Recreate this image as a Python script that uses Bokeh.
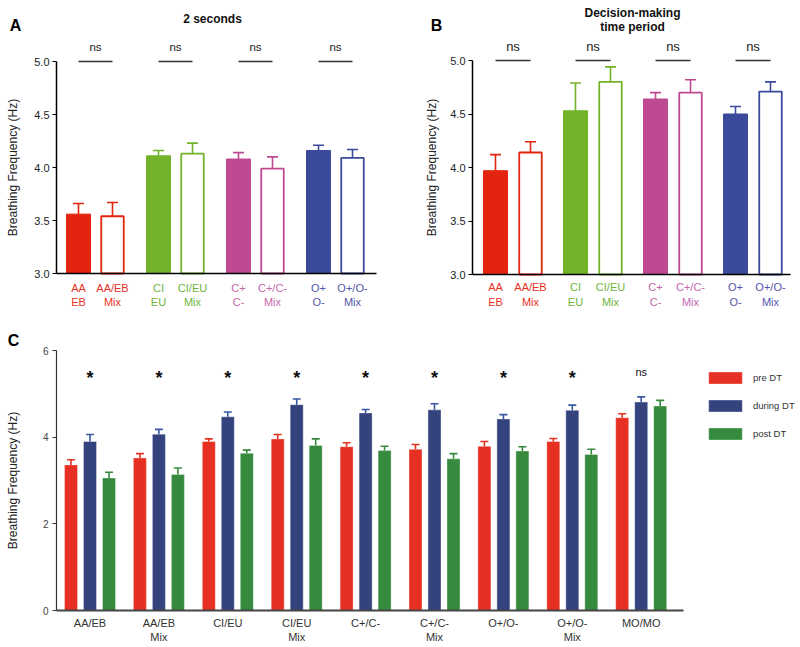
from bokeh.plotting import figure
from bokeh.models import (ColumnDataSource, Range1d, FixedTicker, PrintfTickFormatter,
                          Label, Legend, LegendItem)
from bokeh.transform import dodge
from bokeh.layouts import column, row
from bokeh.embed import file_html
from bokeh.resources import INLINE
from bokeh.core.properties import value

FONT = "Liberation Sans"

# ---------------- Panels A & B data ----------------
groups = ["AA/EB", "CI/EU", "C+/C-", "O+/O-"]
single_line1 = ["AA", "CI", "C+", "O+"]
single_line2 = ["EB", "EU", "C-", "O-"]
mix_line1 = ["AA/EB", "CI/EU", "C+/C-", "O+/O-"]
mix_line2 = ["Mix", "Mix", "Mix", "Mix"]
group_colors = ["#e3240f", "#72b32a", "#bf4a91", "#3b4a9b"]
label_colors = ["#e8321e", "#6db43a", "#c466ac", "#5456aa"]
sig_ab = ["ns", "ns", "ns", "ns"]
yticks_ab = [3.0, 3.5, 4.0, 4.5, 5.0]

a_single = [3.56, 4.11, 4.08, 4.16]
a_single_err = [0.10, 0.05, 0.06, 0.05]
a_mix = [3.54, 4.13, 3.99, 4.09]
a_mix_err = [0.13, 0.10, 0.11, 0.08]

b_single = [3.97, 4.53, 4.64, 4.50]
b_single_err = [0.15, 0.26, 0.06, 0.07]
b_mix = [4.14, 4.80, 4.70, 4.71]
b_mix_err = [0.10, 0.14, 0.12, 0.09]

# ---------------- Panel C data ----------------
c_line1 = ["AA/EB", "AA/EB", "CI/EU", "CI/EU", "C+/C-", "C+/C-", "O+/O-", "O+/O-", "MO/MO"]
c_line2 = ["", "Mix", "", "Mix", "", "Mix", "", "Mix", ""]
pre = [3.36, 3.52, 3.90, 3.96, 3.78, 3.72, 3.79, 3.90, 4.45]
pre_err = [0.12, 0.10, 0.06, 0.10, 0.09, 0.11, 0.11, 0.07, 0.09]
during = [3.90, 4.07, 4.47, 4.75, 4.56, 4.63, 4.42, 4.62, 4.81]
during_err = [0.16, 0.11, 0.11, 0.13, 0.08, 0.14, 0.10, 0.12, 0.12]
post = [3.06, 3.14, 3.63, 3.81, 3.69, 3.50, 3.68, 3.60, 4.72]
post_err = [0.13, 0.15, 0.07, 0.15, 0.10, 0.12, 0.10, 0.12, 0.13]
sig_c = ["*", "*", "*", "*", "*", "*", "*", "*", "ns"]
series_names = ["pre DT", "during DT", "post DT"]
series_colors = ["#e53023", "#34437e", "#368a3d"]
series_err_colors = ["#e53023", "#3a58a0", "#368a3d"]
yticks_c = [0, 2, 4, 6]


class Cal:
    """Maps page pixels to data units for a figure whose frame fills its canvas."""
    def __init__(self, left, top, width, height, x0_page, ppu_x, y_ref_page, y_ref_val, ppu_y):
        self.left, self.top, self.width, self.height = left, top, width, height
        self.x0, self.ppux = x0_page, ppu_x
        self.yp, self.yv, self.ppuy = y_ref_page, y_ref_val, ppu_y

    def fx(self, px):
        return (px - self.x0) / self.ppux

    def fy(self, py):
        return self.yv + (self.yp - py) / self.ppuy

    def figure(self):
        p = figure(width=self.width, height=self.height,
                   x_range=Range1d(self.fx(self.left), self.fx(self.left + self.width)),
                   y_range=Range1d(self.fy(self.top + self.height), self.fy(self.top)),
                   output_backend="svg", toolbar_location=None, min_border=0,
                   outline_line_color=None)
        p.grid.visible = False
        return p


def style_axes(p, cal, ticks, fmt, size, color, line_color, ylw, xlw, axis_px, x_end_px,
               standoff_label, standoff_title):
    ax = p.yaxis[0]
    ax.fixed_location = cal.fx(axis_px)
    ax.ticker = FixedTicker(ticks=ticks, minor_ticks=[])
    if fmt:
        ax.formatter = PrintfTickFormatter(format=fmt)
    ax.bounds = (ticks[0], ticks[-1])
    ax.minor_tick_line_color = None
    ax.major_tick_in = 0
    ax.major_tick_out = 4
    ax.major_tick_line_color = line_color
    ax.major_tick_line_width = 1.2
    ax.axis_line_color = line_color
    ax.axis_line_width = ylw
    ax.major_label_text_font = FONT
    ax.major_label_text_font_size = size
    ax.major_label_text_color = color
    ax.major_label_standoff = standoff_label
    ax.axis_label = "Breathing Frequency (Hz)"
    ax.axis_label_text_font = FONT
    ax.axis_label_text_font_style = "normal"
    ax.axis_label_text_font_size = "12px"
    ax.axis_label_text_color = "#222222"
    ax.axis_label_standoff = standoff_title

    bx = p.xaxis[0]
    bx.fixed_location = ticks[0]
    bx.bounds = (cal.fx(axis_px), cal.fx(x_end_px))
    bx.ticker = FixedTicker(ticks=[], minor_ticks=[])
    bx.major_tick_line_color = None
    bx.minor_tick_line_color = None
    bx.major_label_text_alpha = 0
    bx.axis_line_color = line_color if xlw < 2 else "#444444"
    bx.axis_line_width = xlw


def make_ab(cal, single, single_err, mix, mix_err, *, off_px, bw_px, cap_px,
            titles, ns_py, ns_size, lab_py, letter, letter_pos, axis_px, x_end_px,
            y_standoff):
    p = cal.figure()
    off = off_px / cal.ppux
    bw = bw_px / cal.ppux
    cap = cap_px / cal.ppux
    idx = list(range(len(groups)))
    src = ColumnDataSource(dict(
        x=idx, s=single, s_hi=[v + e for v, e in zip(single, single_err)],
        m=mix, m_hi=[v + e for v, e in zip(mix, mix_err)],
        c=group_colors, lc=label_colors,
        l1s=single_line1, l2s=single_line2, l1m=mix_line1, l2m=mix_line2,
        sig=sig_ab))

    p.vbar(x=dodge("x", -off), top="s", bottom=3.0, width=bw,
           fill_color="c", line_color="c", line_width=1, source=src)
    p.vbar(x=dodge("x", off), top="m", bottom=3.0, width=bw - 1.5 / cal.ppux,
           fill_color="white", line_color="c", line_width=1.8, source=src)
    for o, lo, hi in ((-off, "s", "s_hi"), (off, "m", "m_hi")):
        p.segment(x0=dodge("x", o), y0=lo, x1=dodge("x", o), y1=hi,
                  line_color="c", line_width=1.6, source=src)
        p.segment(x0=dodge("x", o - cap / 2), y0=hi, x1=dodge("x", o + cap / 2), y1=hi,
                  line_color="c", line_width=1.6, source=src)

    p.segment(x0=dodge("x", -off), y0=5.0, x1=dodge("x", off), y1=5.0,
              line_color="#333333", line_width=1.6, source=src)
    p.text(x="x", y=cal.fy(ns_py), text="sig", source=src, text_font=value(FONT),
           text_font_size=ns_size, text_color="#222222", text_align="center",
           text_baseline="middle")

    for o, t1, t2 in ((-off, "l1s", "l2s"), (off, "l1m", "l2m")):
        for t, py in zip((t1, t2), lab_py):
            p.text(x=dodge("x", o), y=cal.fy(py), text=t, source=src,
                   text_font=value(FONT), text_font_size="11px", text_color="lc",
                   text_align="center", text_baseline="middle")

    for txt, tx, ty in titles:
        p.add_layout(Label(x=cal.fx(tx), y=cal.fy(ty), text=txt, text_font=FONT,
                           text_font_size="12px", text_font_style="bold",
                           text_color="#111111", text_align="center",
                           text_baseline="middle"))
    p.add_layout(Label(x=cal.fx(letter_pos[0]), y=cal.fy(letter_pos[1]), text=letter,
                       text_font=FONT, text_font_size="16px", text_font_style="bold",
                       text_color="#000000", text_align="center", text_baseline="middle"))

    style_axes(p, cal, yticks_ab, "%.1f", "11px", "#222222", "#000000", 1.5, 1.5,
               axis_px, x_end_px, 3, y_standoff)
    return p


# Panel A: page coordinates from the reference (axis x=56, y(3.0)=273, y(5.0)=61)
cal_a = Cal(0, 0, 400, 320, 95, 80, 273, 3.0, 106)
pa = make_ab(cal_a, a_single, a_single_err, a_mix, a_mix_err,
             off_px=17, bw_px=24, cap_px=11,
             titles=[("2 seconds", 212, 18)], ns_py=46, ns_size="11.5px",
             lab_py=(287, 301), letter="A", letter_pos=(15, 25),
             axis_px=56, x_end_px=376, y_standoff=11)

# Panel B: axis x=472, y(3.0)=274, y(5.0)=60
cal_b = Cal(400, 0, 400, 320, 512.5, 80, 274, 3.0, 107)
pb = make_ab(cal_b, b_single, b_single_err, b_mix, b_mix_err,
             off_px=17.5, bw_px=24, cap_px=11,
             titles=[("Decision-making", 632, 12), ("time period", 632, 26)],
             ns_py=46, ns_size="13px", lab_py=(286, 301), letter="B",
             letter_pos=(436, 25), axis_px=472, x_end_px=790, y_standoff=8)

# ---------------- Panel C ----------------
cal_c = Cal(0, 320, 800, 327, 89.5, 68.9, 610, 0.0, 260 / 6)
pc = cal_c.figure()
idx_c = list(range(len(c_line1)))
src_c = ColumnDataSource(dict(
    x=idx_c, l1=c_line1, l2=c_line2, sig=sig_c,
    pre=pre, pre_hi=[v + e for v, e in zip(pre, pre_err)],
    during=during, during_hi=[v + e for v, e in zip(during, during_err)],
    post=post, post_hi=[v + e for v, e in zip(post, post_err)],
    sig_y=[cal_c.fy(377) if s == "*" else cal_c.fy(371) for s in sig_c],
    sig_size=["18px" if s == "*" else "11px" for s in sig_c],
    sig_style=["bold" if s == "*" else "normal" for s in sig_c]))

offs = [-19 / cal_c.ppux, 0.0, 19 / cal_c.ppux]
bw_c = 13 / cal_c.ppux
cap_c = 8 / cal_c.ppux
renderers = []
for key, o, col, ecol in zip(["pre", "during", "post"], offs, series_colors, series_err_colors):
    r = pc.vbar(x=dodge("x", o), top=key, bottom=0, width=bw_c, fill_color=col,
                line_color="white", line_alpha=0.35, line_width=1, source=src_c)
    renderers.append(r)
    pc.segment(x0=dodge("x", o), y0=key, x1=dodge("x", o), y1=key + "_hi",
               line_color=ecol, line_width=1.6, source=src_c)
    pc.segment(x0=dodge("x", o - cap_c / 2), y0=key + "_hi", x1=dodge("x", o + cap_c / 2),
               y1=key + "_hi", line_color=ecol, line_width=1.6, source=src_c)

pc.text(x="x", y="sig_y", text="sig", source=src_c, text_font=value(FONT),
        text_font_size="sig_size", text_font_style="sig_style", text_color="#111111",
        text_align="center", text_baseline="alphabetic")

for t, py in (("l1", 622), ("l2", 636)):
    pc.text(x="x", y=cal_c.fy(py), text=t, source=src_c, text_font=value(FONT),
            text_font_size="11px", text_color="#333333", text_align="center",
            text_baseline="middle")

pc.add_layout(Label(x=cal_c.fx(13), y=cal_c.fy(340), text="C", text_font=FONT,
                    text_font_size="16px", text_font_style="bold", text_color="#000000",
                    text_align="center", text_baseline="middle"))

style_axes(pc, cal_c, yticks_c, None, "10px", "#444444", "#333333", 1.2, 2,
           56, 683, 4, 20)

legend = Legend(items=[LegendItem(label=n, renderers=[r]) for n, r in zip(series_names, renderers)],
                location=(704, 206), orientation="vertical", padding=0, margin=0, spacing=13,
                glyph_width=42, glyph_height=15, label_standoff=7, label_height=15,
                label_text_font=FONT, label_text_font_size="9.5px", label_text_color="#333333",
                border_line_color=None, background_fill_alpha=0)
pc.add_layout(legend, "center")

layout = column(row(pa, pb, spacing=0), pc, spacing=0)
open("out.html", "w").write(file_html(layout, INLINE))
